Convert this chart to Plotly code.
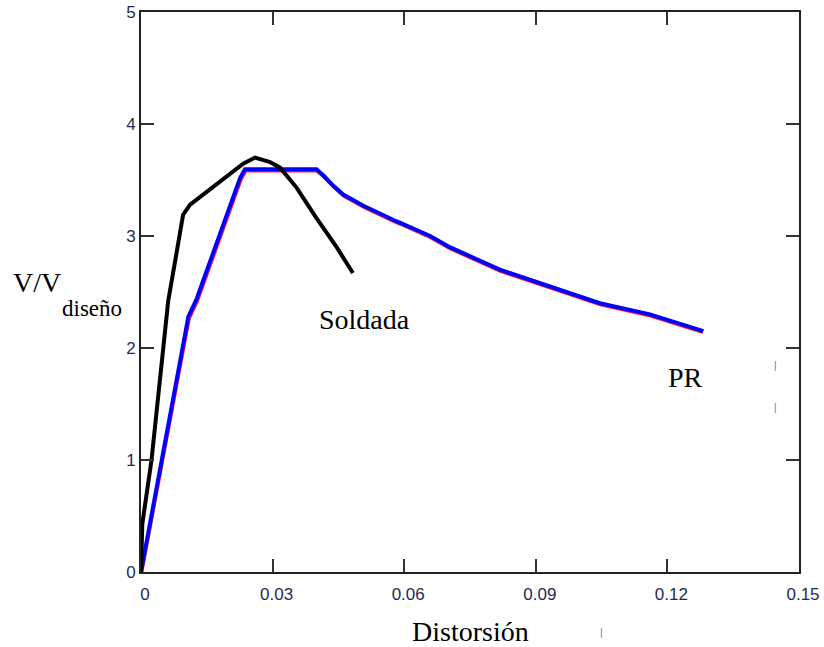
import plotly.graph_objects as go

# Data
pr_x = [0.0, 0.0047, 0.0108, 0.0127, 0.0180, 0.0226, 0.0237, 0.0400, 0.0416, 0.0438, 0.0461,
        0.0507, 0.0583, 0.0590, 0.0659, 0.0704, 0.0818, 0.0932, 0.1046, 0.1160, 0.1282]
pr_y = [0.0, 1.00, 2.28, 2.44, 3.01, 3.52, 3.595, 3.595, 3.54, 3.45, 3.37,
        3.27, 3.13, 3.12, 3.00, 2.90, 2.70, 2.55, 2.40, 2.30, 2.15]

pr_red_x = [0.0002, 0.0049, 0.0110, 0.0129, 0.0182, 0.0228, 0.0239, 0.0401, 0.0417, 0.0439, 0.0462,
            0.0508, 0.0584, 0.0591, 0.0660, 0.0705, 0.0819, 0.0933, 0.1047, 0.1161, 0.1280]
pr_red_y = [0.0, 0.99, 2.26, 2.42, 2.99, 3.50, 3.58, 3.58, 3.525, 3.435, 3.355,
            3.255, 3.115, 3.105, 2.985, 2.885, 2.685, 2.535, 2.385, 2.285, 2.14]

sold_x = [0.0, 0.0003, 0.0024, 0.0043, 0.0062, 0.0078, 0.0096, 0.0112, 0.0180, 0.0233,
          0.0260, 0.0294, 0.0317, 0.0355, 0.0400, 0.0446, 0.0483]
sold_y = [0.0, 0.43, 1.00, 1.71, 2.42, 2.78, 3.19, 3.28, 3.48, 3.645,
          3.70, 3.66, 3.61, 3.43, 3.16, 2.90, 2.67]

x_ticks = [0, 0.03, 0.06, 0.09, 0.12, 0.15]
x_tick_labels = ["0", "0.03", "0.06", "0.09", "0.12", "0.15"]
y_ticks = [0, 1, 2, 3, 4, 5]

W, H = 824, 647
L, R, T, B = 141, 25, 12, 75
PW, PH = W - L - R, H - T - B


def px(xp):
    return (xp - L) / PW


def py(yp):
    return (H - B - yp) / PH


fig = go.Figure()
fig.add_trace(go.Scatter(x=pr_red_x, y=pr_red_y, mode="lines",
                         line=dict(color="#ff2020", width=3), showlegend=False))
fig.add_trace(go.Scatter(x=pr_x, y=pr_y, mode="lines",
                         line=dict(color="#0000ff", width=4), showlegend=False))
fig.add_trace(go.Scatter(x=sold_x, y=sold_y, mode="lines",
                         line=dict(color="#000000", width=4), showlegend=False))

tickfont = dict(family="Liberation Sans, Arial, sans-serif", size=17, color="#1e2a55")
serif = "Liberation Serif, Times New Roman, serif"


def label(text, xp, yp, size=28, color="black", family=serif):
    return dict(text=text, x=px(xp), y=py(yp), xref="paper", yref="paper",
                xanchor="center", yanchor="middle", showarrow=False,
                font=dict(family=family, size=size, color=color))


fig.update_layout(
    width=W, height=H, autosize=False,
    margin=dict(l=L, r=R, t=T, b=B, pad=0, autoexpand=False),
    paper_bgcolor="white", plot_bgcolor="white",
    xaxis=dict(range=[0, 0.15], tickvals=x_ticks, ticktext=x_tick_labels,
               showgrid=False, zeroline=False, showline=True, linecolor="#222",
               linewidth=2, mirror="ticks", ticks="inside", ticklen=13,
               tickwidth=2, tickcolor="#333", tickfont=tickfont, ticklabelstandoff=6,
               ticklabelshift=4, automargin=False),
    yaxis=dict(range=[0, 5], tickvals=y_ticks,
               showgrid=False, zeroline=False, showline=True, linecolor="#222",
               linewidth=2, mirror="ticks", ticks="inside", ticklen=13,
               tickwidth=2, tickcolor="#333", tickfont=tickfont, ticklabelstandoff=0,
               automargin=False),
    annotations=[
        label("Soldada", 364, 319),
        label("PR", 685, 377),
        label("Distorsión", 470, 631),
        label("V/V", 37, 282),
        label("diseño", 92, 308, size=23),
        label("|", 775, 365, size=10, color="#3a7bd5", family="Liberation Sans"),
        label("|", 775, 408, size=10, color="#3a7bd5", family="Liberation Sans"),
        label("|", 601, 632, size=10, color="#3a7bd5", family="Liberation Sans"),
    ],
)

fig.write_html("out.html", config={"displayModeBar": False},
               post_script="document.body.style.margin='0';document.body.style.overflow='hidden';")
